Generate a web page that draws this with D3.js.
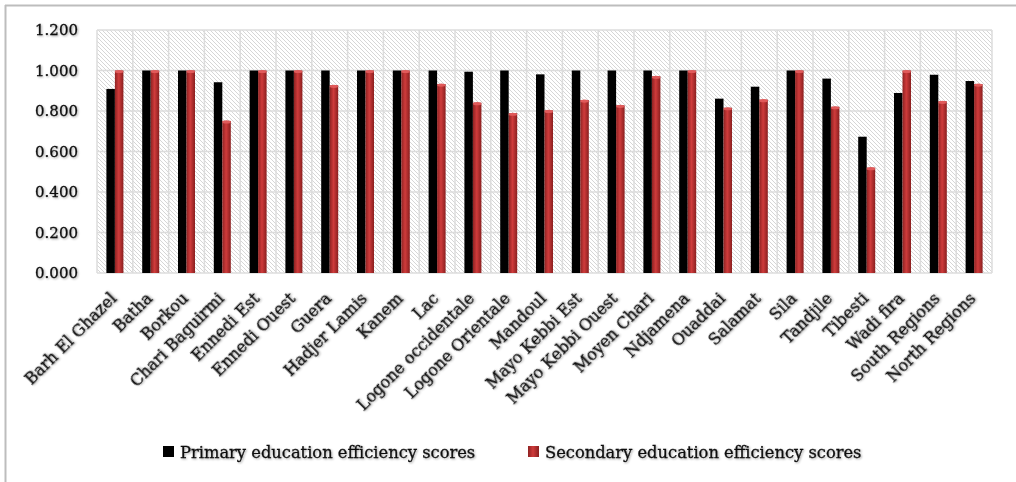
<!DOCTYPE html>
<html><head><meta charset="utf-8">
<script src="https://cdn.jsdelivr.net/npm/d3@7"></script>
<style>body{margin:0;background:#fff}svg{display:block}</style>
</head><body>
<script>
const categories = ["Barh El Ghazel","Batha","Borkou","Chari Baguirmi","Ennedi Est","Ennedi Ouest","Guera","Hadjer Lamis","Kanem","Lac","Logone occidentale","Logone Orientale","Mandoul","Mayo Kebbi Est","Mayo Kebbi Ouest","Moyen Chari","Ndjamena","Ouaddai","Salamat","Sila","Tandjile","Tibesti","Wadi fira","South Regions","North Regions"];
const primary = [0.909,1.000,1.000,0.942,1.000,1.000,1.000,1.000,1.000,1.000,0.994,1.000,0.981,1.000,1.000,1.000,1.000,0.861,0.920,1.000,0.960,0.673,0.889,0.979,0.948];
const secondary = [1.000,1.000,1.000,0.751,1.000,1.000,0.927,1.000,1.000,0.933,0.841,0.789,0.803,0.854,0.828,0.971,1.000,0.816,0.856,1.000,0.821,0.520,1.000,0.848,0.933];
const yTicks = [0,0.2,0.4,0.6,0.8,1.0,1.2];
const seriesNames = ["Primary education efficiency scores","Secondary education  efficiency scores"];

const W=1016,H=482;
const m={l:97,r:1016-992,t:30,b:482-273};
const svg=d3.select("body").append("svg").attr("width",W).attr("height",H);
const defs=svg.append("defs");
const pat=defs.append("pattern").attr("id","hatch").attr("patternUnits","userSpaceOnUse").attr("width",4).attr("height",4);
pat.append("rect").attr("width",4).attr("height",4).attr("fill","#fff");
pat.append("path").attr("d","M-1,-1 L5,5 M-1,3 L1,5 M3,-1 L5,1").attr("stroke","#d6d6d6").attr("stroke-width",1);
const g1=defs.append("linearGradient").attr("id","redg").attr("x1","0").attr("x2","1").attr("y1","0").attr("y2","0");
g1.append("stop").attr("offset","0").attr("stop-color","#8e2222");
g1.append("stop").attr("offset","0.45").attr("stop-color","#cf3b3b");
g1.append("stop").attr("offset","1").attr("stop-color","#8a1f1f");
const f=defs.append("filter").attr("id","ts").attr("x","-5%").attr("y","-20%").attr("width","110%").attr("height","140%");
f.append("feDropShadow").attr("dx",1).attr("dy",1).attr("stdDeviation",0.8).attr("flood-color","#000").attr("flood-opacity",0.35);

// border
svg.append("line").attr("x1",5).attr("x2",W).attr("y1",5.5).attr("y2",5.5).attr("stroke","#bdbdbd").attr("stroke-width",2);
svg.append("line").attr("x1",5.5).attr("x2",5.5).attr("y1",5).attr("y2",H).attr("stroke","#bdbdbd").attr("stroke-width",2);

const x=d3.scaleBand().domain(categories).range([m.l,W-m.r]).padding(0);
const y=d3.scaleLinear().domain([0,1.2]).range([H-m.b,m.t]);

svg.append("rect").attr("x",m.l).attr("y",m.t).attr("width",W-m.r-m.l).attr("height",H-m.b-m.t).attr("fill","url(#hatch)");
// grid
const grid=svg.append("g").attr("stroke","#dcdcdc").attr("stroke-width",1.5);
yTicks.forEach(t=>grid.append("line").attr("x1",m.l).attr("x2",W-m.r).attr("y1",y(t)).attr("y2",y(t)));
categories.forEach(c=>grid.append("line").attr("x1",x(c)).attr("x2",x(c)).attr("y1",m.t).attr("y2",H-m.b));
grid.append("line").attr("x1",W-m.r).attr("x2",W-m.r).attr("y1",m.t).attr("y2",H-m.b);

const bw=8.5;
const bars=svg.append("g");
categories.forEach((c,i)=>{
  const cx=x(c)+x.bandwidth()/2;
  bars.append("rect").attr("x",cx-bw).attr("y",y(primary[i])).attr("width",bw).attr("height",y(0)-y(primary[i])).attr("fill","#000");
  bars.append("rect").attr("x",cx).attr("y",y(secondary[i])).attr("width",bw).attr("height",y(0)-y(secondary[i])).attr("fill","url(#redg)");
  bars.append("ellipse").attr("cx",cx+bw/2).attr("cy",y(secondary[i])+1).attr("rx",bw/2).attr("ry",1.6).attr("fill","#e05a5a");
});

const txt=sel=>sel.attr("font-family","DejaVu Serif").attr("fill","#111").attr("stroke","#111").attr("stroke-width",0.3).attr("filter","url(#ts)");

// y axis labels
const yAxis=d3.axisLeft(y).tickValues(yTicks).tickFormat(d3.format(".3f")).tickSize(0).tickPadding(19);
const ya=svg.append("g").attr("transform",`translate(${m.l},0)`).call(yAxis);
ya.select(".domain").remove();
ya.selectAll("text").call(txt).attr("font-size",15);

// x axis labels
const xAxis=d3.axisBottom(x).tickSize(0).tickPadding(0);
const xa=svg.append("g").attr("transform",`translate(0,${H-m.b})`).call(xAxis);
xa.select(".domain").remove();
xa.selectAll("text").call(txt).attr("font-size",16)
  .attr("text-anchor","end").attr("dy",null).attr("y",0)
  .attr("transform","translate(-1,23) rotate(-45)").attr("dominant-baseline","middle");

// legend
const lg=svg.append("g");
const lx=[163,528];
seriesNames.forEach((s,i)=>{
  lg.append("rect").attr("x",lx[i]).attr("y",446).attr("width",11).attr("height",11).attr("fill",i?"url(#redg)":"#000");
  lg.append("text").attr("x",lx[i]+17).attr("y",453).attr("dominant-baseline","middle").attr("font-size",16.3).call(txt).text(s);
});
</script>
</body></html>
